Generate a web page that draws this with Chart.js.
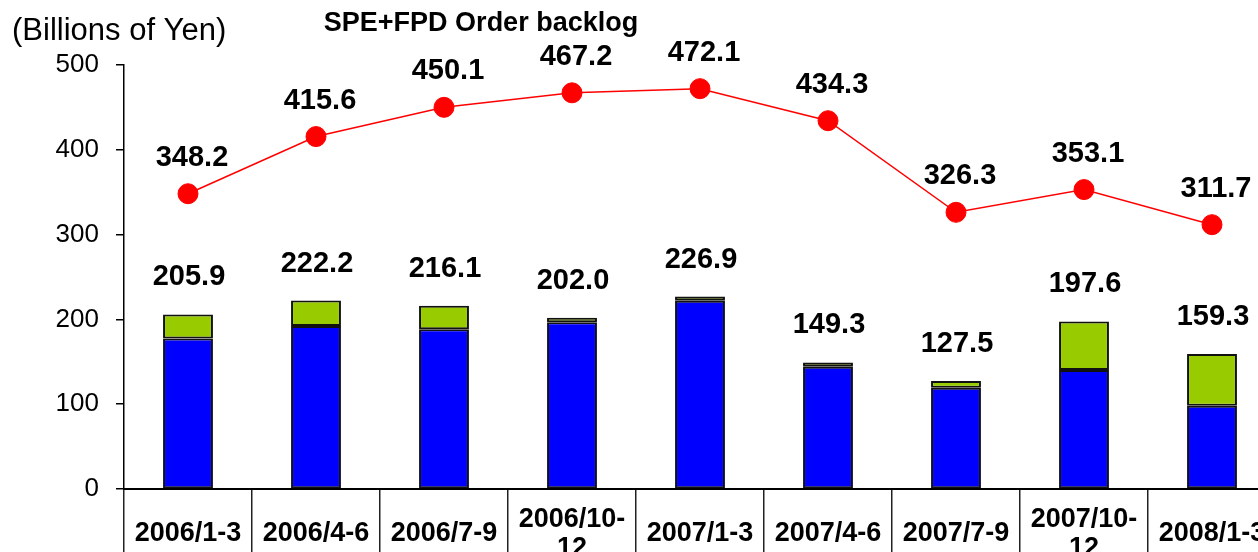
<!DOCTYPE html>
<html>
<head>
<meta charset="utf-8">
<script src="https://cdn.jsdelivr.net/npm/chart.js@4.4.1/dist/chart.umd.min.js"></script>
<style>
  html, body { margin: 0; padding: 0; background: #fff; overflow: hidden; width: 1258px; height: 552px; }
  #c { display: block; }
</style>
</head>
<body>
<canvas id="c" width="1287" height="600"></canvas>
<script>
const categories = ["2006/1-3","2006/4-6","2006/7-9","2006/10-12","2007/1-3","2007/4-6","2007/7-9","2007/10-12","2008/1-3"];
const backlogValues = [348.2, 415.6, 450.1, 467.2, 472.1, 434.3, 326.3, 353.1, 311.7];
const barTotals = [205.9, 222.2, 216.1, 202.0, 226.9, 149.3, 127.5, 197.6, 159.3];
const blueValues = [177.5, 192.2, 188.3, 196.6, 222.1, 144.2, 119.5, 140.3, 98.2];
const greenValues = [28.4, 30.0, 27.8, 5.4, 4.8, 5.1, 8.0, 57.3, 61.1];
const yTicks = [0, 100, 200, 300, 400, 500];
const chartTitle = "SPE+FPD Order backlog";
const unitLabel = "(Billions of Yen)";

const FONT = "'Liberation Sans', Arial, sans-serif";

const labelPlugin = {
  id: 'labels',
  afterDatasetsDraw(chart) {
    const ctx = chart.ctx;
    ctx.save();
    ctx.fillStyle = '#000';
    ctx.font = 'bold 29px ' + FONT;
    ctx.textAlign = 'center';
    ctx.textBaseline = 'middle';
    const lineMeta = chart.getDatasetMeta(2);
    lineMeta.data.forEach((pt, i) => {
      ctx.fillText(backlogValues[i].toFixed(1), pt.x + 4, pt.y - 36);
    });
    const topMeta = chart.getDatasetMeta(1);
    topMeta.data.forEach((bar, i) => {
      ctx.fillText(barTotals[i].toFixed(1), bar.x + 1, bar.y - 37);
    });
    ctx.textBaseline = 'alphabetic';
    ctx.font = 'bold 27px ' + FONT;
    ctx.fillText(chartTitle, 481, 31);
    ctx.textAlign = 'left';
    ctx.font = '31px ' + FONT;
    ctx.fillText(unitLabel, 12, 40);
    ctx.restore();
  }
};

new Chart(document.getElementById('c'), {
  data: {
    labels: categories,
    datasets: [
      {
        type: 'bar',
        data: blueValues,
        backgroundColor: '#0000FF',
        borderColor: '#111',
        borderWidth: 2,
        borderSkipped: false,
        barPercentage: 0.39,
        categoryPercentage: 1.0,
        stack: 'bars',
        order: 2
      },
      {
        type: 'bar',
        data: greenValues,
        backgroundColor: '#99CC00',
        borderColor: '#111',
        borderWidth: 2,
        borderSkipped: false,
        barPercentage: 0.39,
        categoryPercentage: 1.0,
        stack: 'bars',
        order: 2
      },
      {
        type: 'line',
        data: backlogValues,
        borderColor: '#FF0000',
        borderWidth: 1.5,
        pointRadius: 10,
        pointBackgroundColor: '#FF0000',
        pointBorderColor: '#FF0000',
        pointBorderWidth: 1,
        tension: 0,
        stack: 'line',
        order: 1
      }
    ]
  },
  options: {
    responsive: false,
    animation: false,
    devicePixelRatio: 1,
    layout: { padding: { top: 65, left: 0, right: 0, bottom: 0 } },
    plugins: { legend: { display: false }, tooltip: { enabled: false }, title: { display: false } },
    scales: {
      x: {
        stacked: true,
        offset: true,
        grid: {
          offset: true,
          drawOnChartArea: false,
          drawTicks: true,
          tickLength: 120,
          color: '#222',
          lineWidth: 1.5
        },
        border: { display: true, color: '#000', width: 2 },
        ticks: {
          autoSkip: false,
          maxRotation: 0,
          minRotation: 0,
          crossAlign: 'center',
          padding: -89,
          color: '#000',
          font: { family: FONT, size: 27, weight: 'bold', lineHeight: 1.04 },
          callback: function(value, index) {
            const s = categories[index];
            return s.length > 8 ? [s.slice(0, 8), s.slice(8)] : s;
          }
        },
        afterFit: (scale) => { scale.height = 111; }
      },
      y: {
        stacked: true,
        min: 0,
        max: 500,
        afterBuildTicks: (scale) => { scale.ticks = yTicks.map(v => ({ value: v })); },
        grid: {
          drawOnChartArea: false,
          drawTicks: true,
          tickLength: 8,
          color: '#000',
          lineWidth: 1.5
        },
        border: { display: true, color: '#000', width: 1.5 },
        ticks: {
          padding: 17,
          color: '#000',
          font: { family: FONT, size: 26 }
        },
        afterFit: (scale) => { scale.width = 124; }
      }
    }
  },
  plugins: [labelPlugin]
});
</script>
</body>
</html>
